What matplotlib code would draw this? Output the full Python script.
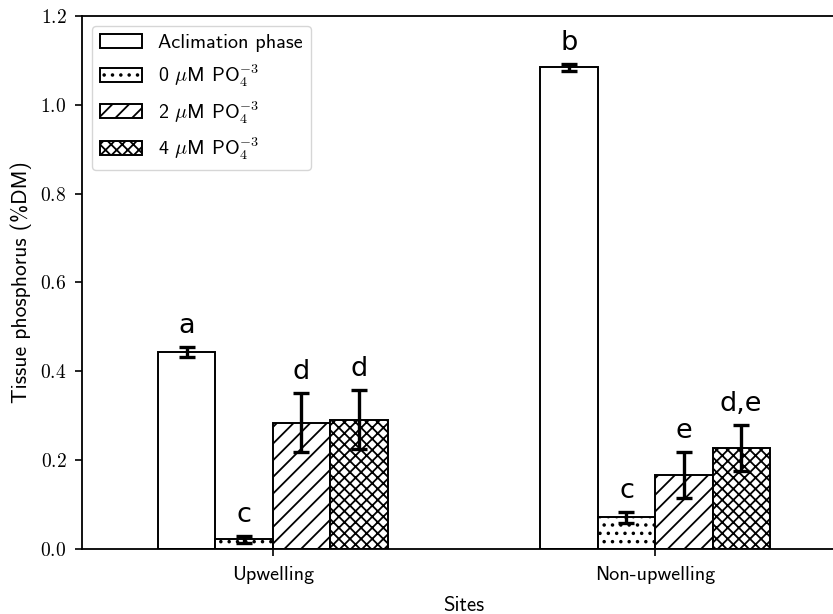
import matplotlib
matplotlib.use("Agg")
import matplotlib.pyplot as plt
from matplotlib.ticker import FuncFormatter
import numpy as np

plt.rcParams['font.family'] = 'cmss10'
plt.rcParams['mathtext.fontset'] = 'cm'
plt.rcParams['axes.unicode_minus'] = False
plt.rcParams['hatch.linewidth'] = 1.3

sites = ["Upwelling", "Non-upwelling"]
treatments = ["Aclimation phase", r"0 $\mu$M PO$_4^{-3}$",
              r"2 $\mu$M PO$_4^{-3}$", r"4 $\mu$M PO$_4^{-3}$"]
hatches = ["", "..", "//", "xxx"]

# mean tissue P per treatment, [upwelling, non-upwelling]
aclim = [0.443, 1.084]
p0 = [0.022, 0.071]
p2 = [0.284, 0.167]
p4 = [0.291, 0.228]

aclim_err = [0.012, 0.007]
p0_err = [0.008, 0.013]
p2_err = [0.066, 0.052]
p4_err = [0.066, 0.052]

letters = [["a", "b"], ["c", "c"], ["d", "e"], ["d", "d,e"]]

means = [aclim, p0, p2, p4]
errs = [aclim_err, p0_err, p2_err, p4_err]

fig = plt.figure(figsize=(8.33, 6.14), dpi=100)
ax = fig.add_axes([0.098, 0.106, 0.918, 0.868])

x = np.arange(len(sites))
w = 0.15
for i in range(4):
    pos = x + (i - 1.5) * w
    ax.bar(pos, means[i], w, yerr=errs[i], color='white', edgecolor='black',
           hatch=hatches[i], linewidth=1.4, label=treatments[i],
           error_kw=dict(ecolor='black', elinewidth=2.4, capsize=6, capthick=2.4))
    for j in range(len(sites)):
        ax.text(pos[j], means[i][j] + errs[i][j] + 0.018, letters[i][j],
                ha='center', va='bottom', fontsize=19.5, family='DejaVu Sans')

ax.set_xlim(-0.5, 1.5)
ax.set_ylim(0, 1.2)
ax.set_xticks(x)
ax.set_xticklabels(sites, fontsize=14.5)
ax.set_yticks(np.arange(0, 1.21, 0.2))
ax.yaxis.set_major_formatter(FuncFormatter(lambda v, p: r'$%.1f$' % v))
ax.tick_params(axis='y', labelsize=14, pad=6)
ax.tick_params(axis='x', pad=7)
ax.tick_params(length=5, width=1.2)
for s in ax.spines.values():
    s.set_linewidth(1.3)
ax.set_xlabel('Sites', fontsize=15, labelpad=9)
ax.set_ylabel('Tissue phosphorus (%DM)', fontsize=15.5, labelpad=6)

ax.legend(loc='upper left', fontsize=14.5, handlelength=2.1)

fig.savefig('out.png', dpi=100)
